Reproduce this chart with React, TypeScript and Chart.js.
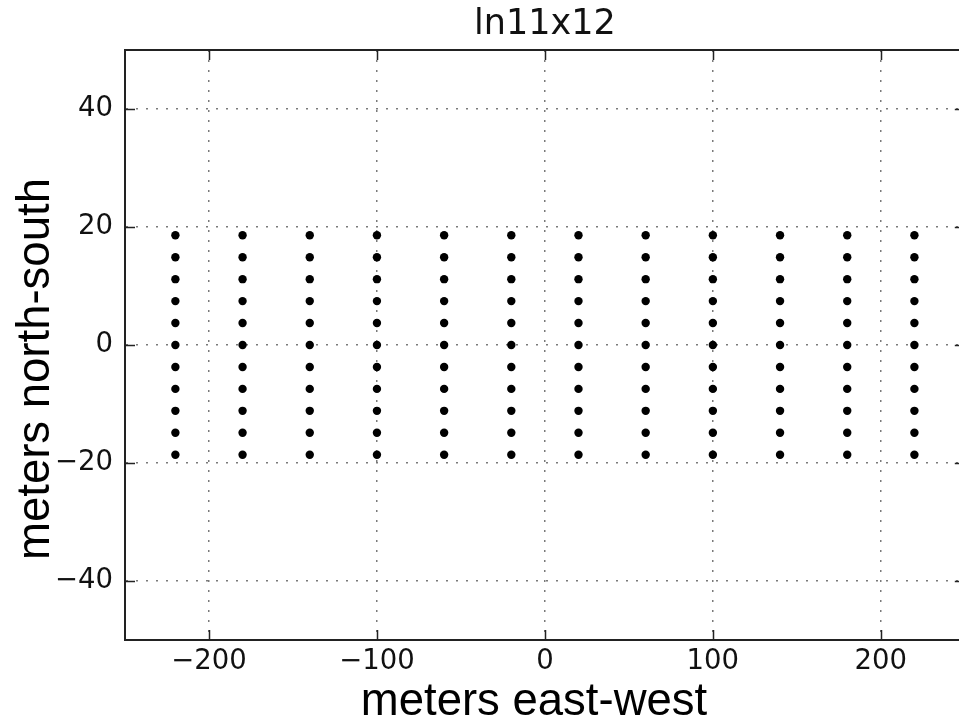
import React, { useEffect, useRef } from "react";
import { Chart, registerables } from "chart.js";

Chart.register(...registerables);

// ---- data ----
const chartTitle = "ln11x12";
const xAxisTitle = "meters east-west";
const yAxisTitle = "meters north-south";
const xColumns = [-220, -180, -140, -100, -60, -20, 20, 60, 100, 140, 180, 220];
const yRows = [-18.6, -14.88, -11.16, -7.44, -3.72, 0, 3.72, 7.44, 11.16, 14.88, 18.6];
const xTickValues = [-200, -100, 0, 100, 200];
const yTickValues = [-40, -20, 0, 20, 40];
const xRange = [-250, 250];
const yRange = [-50, 50];

const fmt = (v: number) => (v < 0 ? "\u2212" + Math.abs(v) : String(v));

const frameAndLabels = {
  id: "frameAndLabels",
  afterDraw(chart: any) {
    const { ctx, chartArea, scales } = chart;
    const { left, right, top, bottom } = chartArea;
    ctx.save();
    ctx.strokeStyle = "#222";
    ctx.lineWidth = 2;
    ctx.beginPath();
    ctx.moveTo(left, top);
    ctx.lineTo(right, top);
    ctx.moveTo(right, top);
    ctx.lineTo(right, bottom);
    ctx.stroke();
    // inward ticks
    ctx.lineWidth = 1.5;
    ctx.beginPath();
    xTickValues.forEach((v) => {
      const px = Math.round(scales.x.getPixelForValue(v)) + 0.5;
      ctx.moveTo(px, bottom);
      ctx.lineTo(px, bottom - 10);
      ctx.moveTo(px, top);
      ctx.lineTo(px, top + 10);
    });
    yTickValues.forEach((v) => {
      const py = Math.round(scales.y.getPixelForValue(v)) + 0.5;
      ctx.moveTo(left, py);
      ctx.lineTo(left + 10, py);
      ctx.moveTo(right, py);
      ctx.lineTo(right - 10, py);
    });
    ctx.stroke();
    // axis titles
    ctx.fillStyle = "#000";
    ctx.font = "45.5px 'Liberation Sans'";
    ctx.textAlign = "center";
    ctx.textBaseline = "alphabetic";
    ctx.fillText(xAxisTitle, 534, 715);
    ctx.translate(49, 369);
    ctx.rotate(-Math.PI / 2);
    ctx.fillText(yAxisTitle, 0, 0);
    ctx.restore();
  },
};

export default function App() {
  const ref = useRef<HTMLCanvasElement | null>(null);
  useEffect(() => {
    if (!ref.current) return;
    const points: { x: number; y: number }[] = [];
    xColumns.forEach((x) => yRows.forEach((y) => points.push({ x, y })));
    const chart = new Chart(ref.current, {
      type: "scatter",
      data: {
        datasets: [
          {
            data: points,
            pointRadius: 4.2,
            pointBorderWidth: 0,
            pointBackgroundColor: "#000",
            backgroundColor: "#000",
            showLine: false,
          },
        ],
      },
      options: {
        responsive: false,
        animation: false,
        layout: { padding: 0 },
        plugins: {
          legend: { display: false },
          tooltip: { enabled: false },
          title: {
            display: true,
            text: chartTitle,
            fullSize: false,
            color: "#111",
            font: { family: "'DejaVu Sans'", size: 35, weight: "normal" },
            padding: { top: 4, bottom: 4 },
          },
        },
        scales: {
          x: {
            type: "linear",
            min: xRange[0],
            max: xRange[1],
            afterBuildTicks: (s: any) => {
              s.ticks = xTickValues.map((v) => ({ value: v }));
            },
            afterFit: (s: any) => {
              s.height = 79;
            },
            ticks: {
              callback: (v: any) => fmt(Number(v)),
              font: { family: "'DejaVu Sans'", size: 27.5 },
              color: "#111",
              padding: 5,
              maxRotation: 0,
              autoSkip: false,
            },
            grid: { color: "#7a7a7a", lineWidth: 1.5, drawTicks: false },
            border: { display: true, color: "#222", width: 2, dash: [2, 8] },
          },
          y: {
            type: "linear",
            min: yRange[0],
            max: yRange[1],
            afterBuildTicks: (s: any) => {
              s.ticks = yTickValues.map((v) => ({ value: v }));
            },
            afterFit: (s: any) => {
              s.width = 125;
            },
            ticks: {
              callback: (v: any) => fmt(Number(v)),
              font: { family: "'DejaVu Sans'", size: 27.5 },
              color: "#111",
              padding: 12,
              autoSkip: false,
            },
            grid: { color: "#7a7a7a", lineWidth: 1.5, drawTicks: false },
            border: { display: true, color: "#222", width: 2, dash: [2, 8] },
          },
        },
      },
      plugins: [frameAndLabels],
    } as any);
    return () => chart.destroy();
  }, []);
  return (
    <div
      style={{
        position: "absolute",
        left: 0,
        top: 0,
        width: 959,
        height: 719,
        overflow: "hidden",
        background: "#fff",
      }}
    >
      <canvas ref={ref} width={969} height={719} style={{ display: "block" }} />
    </div>
  );
}
